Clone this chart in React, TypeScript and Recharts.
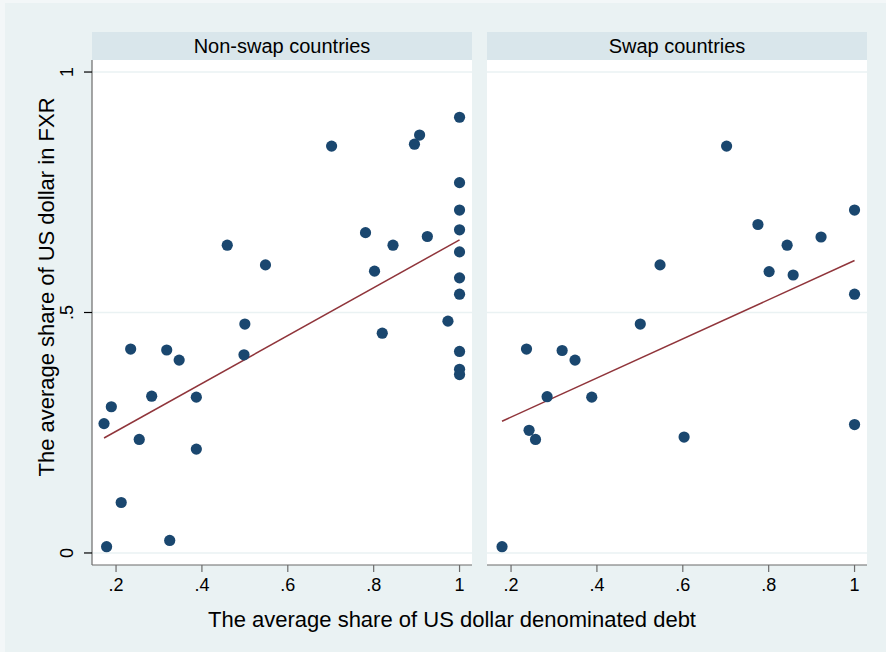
import React from "react";
import {
  ScatterChart,
  Scatter,
  XAxis,
  YAxis,
  CartesianGrid,
  ReferenceLine,
} from "recharts";

// ---- Data ----
const panelTitles = ["Non-swap countries", "Swap countries"];
const xTicks = [0.2, 0.4, 0.6, 0.8, 1];
const yTicks = [0, 0.5, 1];
const xTitle = "The average share of US dollar denominated debt";
const yTitle = "The average share of US dollar in FXR";

const nonSwapX = [
  1.0, 0.907, 0.895, 0.702, 1.0, 1.0, 1.0, 0.781, 0.925, 0.845, 0.459, 1.0, 0.802,
  0.548, 1.0, 1.0, 0.5, 0.973, 0.82, 1.0, 0.234, 0.318, 0.347, 0.498, 1.0, 1.0,
  0.283, 0.387, 0.189, 0.172, 0.254, 0.387, 0.212, 0.325, 0.178,
];
const nonSwapY = [
  0.906, 0.869, 0.85, 0.846, 0.77, 0.713, 0.672, 0.666, 0.658, 0.64, 0.64, 0.626,
  0.586, 0.599, 0.572, 0.538, 0.476, 0.482, 0.457, 0.419, 0.424, 0.422, 0.401,
  0.412, 0.382, 0.371, 0.326, 0.324, 0.304, 0.269, 0.236, 0.216, 0.105, 0.026,
  0.013,
];
const swapX = [
  0.702, 1.0, 0.775, 0.922, 0.843, 0.547, 0.801, 0.857, 1.0, 0.501, 0.236, 0.319,
  0.349, 0.284, 0.388, 0.242, 0.257, 0.603, 1.0, 0.179,
];
const swapY = [
  0.846, 0.713, 0.683, 0.657, 0.64, 0.599, 0.585, 0.578, 0.538, 0.476, 0.424, 0.421,
  0.401, 0.325, 0.324, 0.255, 0.236, 0.241, 0.267, 0.013,
];
// fitted-line endpoints
const nonSwapFitX = [0.172, 1.0];
const nonSwapFitY = [0.239, 0.651];
const swapFitX = [0.179, 1.0];
const swapFitY = [0.274, 0.608];

const zip = (xs: number[], ys: number[]) => xs.map((x, i) => ({ x, y: ys[i] }));

const X_DOMAIN: [number, number] = [0.144, 1.029];
const Y_DOMAIN: [number, number] = [-0.025, 1.025];

const BG = "#eaf2f3";
const STRIP = "#d9e6eb";
const DOT = "#1a476f";
const FIT = "#90353b";
const AXIS = "#6b6b6b";
const FONT = "'Liberation Sans', Arial, Helvetica, sans-serif";

const fmt = (v: number) => (v === 1 ? "1" : v === 0 ? "0" : String(v).replace(/^0/, ""));

const Dot = (props: any) => {
  const { cx, cy } = props;
  if (cx == null || cy == null) return <g />;
  return <circle cx={cx} cy={cy} r={5.6} fill={DOT} />;
};

const NoShape = () => <g />;

const YTick = (props: any) => {
  const { y, payload } = props;
  const x = 73;
  return (
    <text
      x={x}
      y={y}
      transform={`rotate(-90, ${x}, ${y})`}
      textAnchor="middle"
      fontSize={18}
      fontFamily={FONT}
      fill="#000"
    >
      {fmt(payload.value)}
    </text>
  );
};

const XTick = (props: any) => {
  const { x, y, payload } = props;
  return (
    <text x={x} y={y + 17} textAnchor="middle" fontSize={18} fontFamily={FONT} fill="#000">
      {fmt(payload.value)}
    </text>
  );
};

function Panel({
  points,
  fit,
  showY,
  width,
  marginLeft,
}: {
  points: { x: number; y: number }[];
  fit: { x: number; y: number }[];
  showY: boolean;
  width: number;
  marginLeft: number;
}) {
  return (
    <ScatterChart
      width={width}
      height={652}
      margin={{ top: 60, right: 0, bottom: 0, left: marginLeft }}
    >
      <CartesianGrid horizontal={false} vertical={false} fill="#ffffff" stroke="none" />
      {yTicks.map((t) => (
        <ReferenceLine key={t} y={t} stroke={BG} strokeWidth={1.5} ifOverflow="visible" />
      ))}
      <XAxis
        type="number"
        dataKey="x"
        domain={X_DOMAIN}
        ticks={xTicks}
        allowDataOverflow
        axisLine={{ stroke: AXIS, strokeWidth: 1.2 }}
        tickLine={{ stroke: AXIS, strokeWidth: 1.2 }}
        tickSize={7}
        tick={<XTick />}
        height={87}
        interval={0}
      />
      <YAxis
        type="number"
        dataKey="y"
        domain={Y_DOMAIN}
        ticks={yTicks}
        allowDataOverflow
        hide={!showY}
        width={showY ? 40 : 0}
        axisLine={{ stroke: AXIS, strokeWidth: 1.2 }}
        tickLine={{ stroke: "#000", strokeWidth: 1.2 }}
        tickSize={8}
        tick={<YTick />}
        interval={0}
      />
      <Scatter
        data={fit}
        line={{ stroke: FIT, strokeWidth: 1.5 }}
        shape={NoShape}
        isAnimationActive={false}
      />
      <Scatter data={points} shape={Dot} isAnimationActive={false} />
    </ScatterChart>
  );
}

export default function App() {
  const nonSwap = zip(nonSwapX, nonSwapY);
  const swap = zip(swapX, swapY);
  const nonSwapFit = zip(nonSwapFitX, nonSwapFitY);
  const swapFit = zip(swapFitX, swapFitY);

  return (
    <div
      style={{
        position: "absolute",
        left: 0,
        top: 0,
        width: 886,
        height: 652,
        background: "#f3f7f8",
        overflow: "hidden",
        fontFamily: FONT,
      }}
    >
      <div
        style={{ position: "absolute", left: 5, top: 3, width: 881, height: 649, background: BG }}
      />
      {/* left panel: plot area x 92..472 */}
      <div style={{ position: "absolute", left: 0, top: 0 }}>
        <Panel points={nonSwap} fit={nonSwapFit} showY={true} width={472} marginLeft={52} />
      </div>
      {/* right panel: plot area x 487..867 */}
      <div style={{ position: "absolute", left: 487, top: 0 }}>
        <Panel points={swap} fit={swapFit} showY={false} width={380} marginLeft={0} />
      </div>
      {/* strips */}
      {panelTitles.map((t, i) => (
        <div
          key={t}
          style={{
            position: "absolute",
            left: i === 0 ? 92 : 487,
            top: 32,
            width: 380,
            height: 28,
            background: STRIP,
            textAlign: "center",
            lineHeight: "28px",
            fontSize: 20,
            color: "#000",
          }}
        >
          {t}
        </div>
      ))}
      {/* x title */}
      <div
        style={{
          position: "absolute",
          left: 0,
          width: 904,
          top: 606,
          textAlign: "center",
          fontSize: 22,
          color: "#000",
          lineHeight: "28px",
        }}
      >
        {xTitle}
      </div>
      {/* y title */}
      <div
        style={{
          position: "absolute",
          left: 47 - 250,
          top: 287 - 14,
          width: 500,
          height: 28,
          lineHeight: "28px",
          textAlign: "center",
          fontSize: 22,
          color: "#000",
          transform: "rotate(-90deg)",
          transformOrigin: "50% 50%",
        }}
      >
        {yTitle}
      </div>
    </div>
  );
}
